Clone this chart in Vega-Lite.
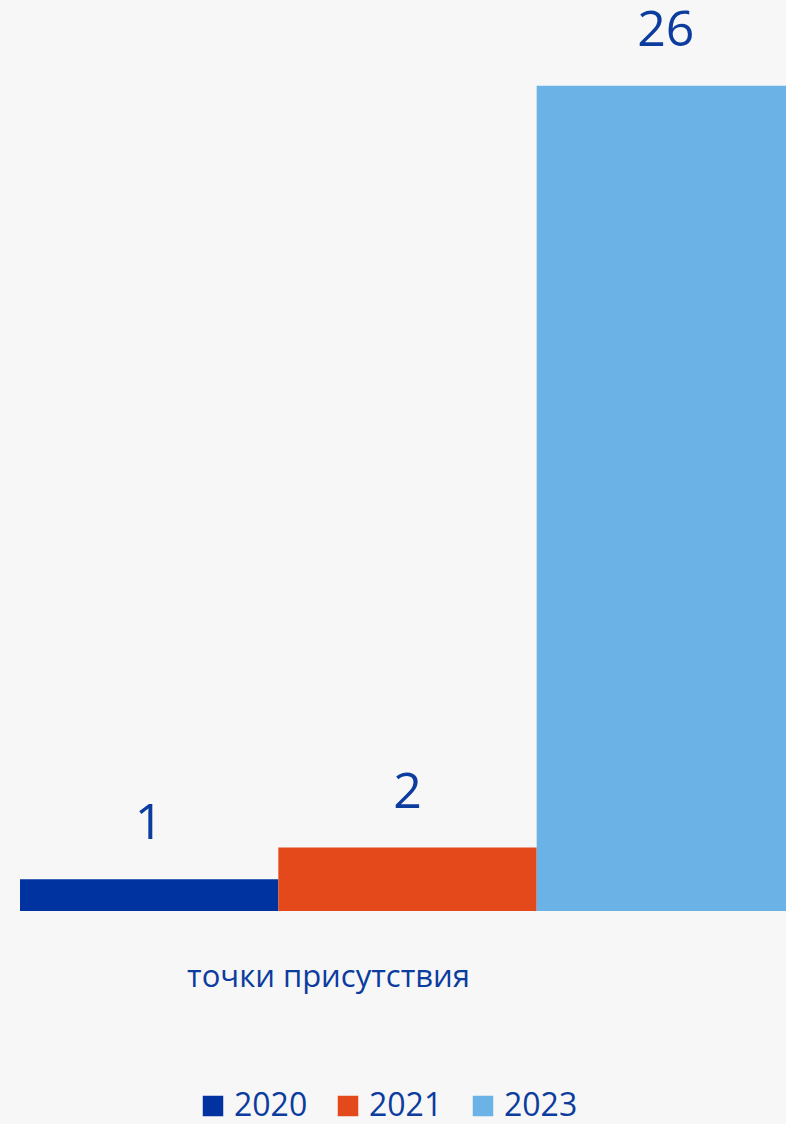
{
  "$schema": "https://vega.github.io/schema/vega-lite/v6.json",
  "width": 786,
  "height": 911,
  "autosize": {"type": "none"},
  "padding": {"left": 0, "top": 0, "right": 0, "bottom": 213},
  "background": "#f7f7f7",
  "config": {"view": {"stroke": null}},
  "data": {
    "values": [
      {"category": "точки присутствия", "year": "2020", "value": 1},
      {"category": "точки присутствия", "year": "2021", "value": 2},
      {"category": "точки присутствия", "year": "2023", "value": 26}
    ]
  },
  "encoding": {
    "x": {
      "field": "category",
      "type": "nominal",
      "scale": {"range": [20, 795], "paddingInner": 0, "paddingOuter": 0},
      "axis": {
        "title": null,
        "ticks": false,
        "domain": false,
        "labelAngle": 0,
        "labelLimit": 0,
        "labelFont": "Open Sans",
        "labelFontSize": 31,
        "labelColor": "#0B3C9E",
        "labelBaseline": "alphabetic",
        "labelPadding": 75,
        "labelOffset": -79
      }
    },
    "xOffset": {
      "field": "year",
      "type": "nominal",
      "scale": {"paddingInner": 0, "paddingOuter": 0}
    },
    "y": {
      "field": "value",
      "type": "quantitative",
      "scale": {"domain": [0, 28.7], "nice": false},
      "axis": null
    }
  },
  "layer": [
    {
      "mark": {"type": "bar", "clip": true},
      "encoding": {
        "color": {
          "field": "year",
          "type": "nominal",
          "scale": {"domain": ["2020", "2021", "2023"], "range": ["#0033A0", "#E4491C", "#6BB2E6"]},
          "legend": {
            "orient": "none",
            "legendX": 197,
            "legendY": 1090,
            "direction": "horizontal",
            "title": null,
            "symbolType": "square",
            "symbolSize": 420,
            "symbolStrokeWidth": 0,
            "labelFont": "Open Sans",
            "labelFontSize": 32,
            "labelColor": "#0B3C9E",
            "labelOffset": 5,
            "columnPadding": 24
          }
        }
      }
    },
    {
      "mark": {
        "type": "text",
        "dy": -40,
        "baseline": "alphabetic",
        "font": "Open Sans",
        "fontSize": 50,
        "color": "#0B3C9E"
      },
      "encoding": {"text": {"field": "value", "type": "quantitative"}}
    }
  ]
}
